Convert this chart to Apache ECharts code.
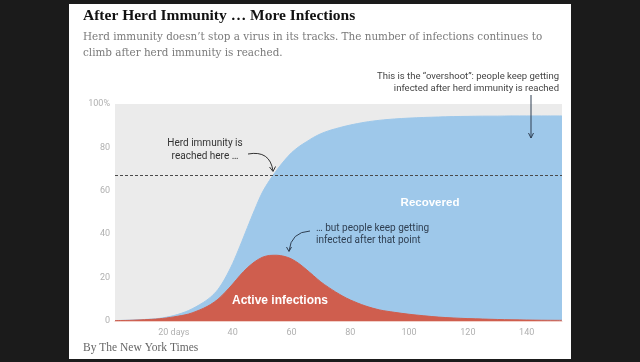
<!DOCTYPE html>
<html>
<head>
<meta charset="utf-8">
<script src="https://cdn.jsdelivr.net/npm/echarts@6/dist/echarts.min.js"></script>
<style>
html,body{margin:0;padding:0;background:#1b1b1b;}
#c{width:640px;height:362px;}
</style>
</head>
<body>
<div id="c"></div>
<script>
// Data (percent of population)
const days = [0,5,10,15,20,25,30,32.5,35,37.5,40,42.5,45,47.5,50,52.5,55,57.5,60,62.5,65,67.5,70,72.5,75,77.5,80,85,90,95,100,105,110,115,120,125,130,135,140,145,152];
const totalInfected = [0.2,0.4,0.7,1.2,2.5,4.8,8.5,11,14.5,19.8,26.5,34.5,43,51.3,59,64.7,69.5,73.8,77.5,80.3,82.5,84.6,86.3,87.6,88.6,89.5,90.3,91.6,92.5,93.1,93.5,93.8,94.0,94.2,94.3,94.4,94.4,94.5,94.5,94.5,94.5];
const activeInfections = [0.2,0.3,0.6,1.0,1.9,3.2,5.8,7.6,10,13.3,17,21,24.5,27.3,29.3,30.2,30.3,29.8,28.6,26.5,23.8,20.9,18.0,15.6,13.4,11.4,9.7,7.0,5.1,4.0,3.1,2.4,1.8,1.4,1.1,0.9,0.7,0.55,0.45,0.35,0.3];
const herdImmunityThreshold = 67.3;
const xTicks = [20,40,60,80,100,120,140];
const yTicks = [0,20,40,60,80,100];

const chart = echarts.init(document.getElementById('c'), null, {renderer:'canvas'});

const sans = 'Roboto, "Liberation Sans", sans-serif';
const serif = '"DejaVu Serif", "Liberation Serif", serif';

const option = {
  backgroundColor: '#1b1b1b',
  animation: false,
  grid: {left:115, right:78, top:104, bottom:41, show:true, backgroundColor:'#ebebeb', borderWidth:0},
  xAxis: {
    type:'value', min:0, max:152, interval:20,
    axisLine:{show:true, lineStyle:{color:'#f2cfc8', width:1}},
    axisTick:{show:false},
    splitLine:{show:false},
    axisLabel:{
      color:'#b0b0b0', fontSize:9, fontFamily:sans, margin:7,
      formatter: v => xTicks.includes(v) ? (v === 20 ? '20 days' : String(v)) : ''
    }
  },
  yAxis: {
    type:'value', min:0, max:100, interval:20,
    axisLine:{show:false}, axisTick:{show:false}, splitLine:{show:false},
    axisLabel:{
      color:'#b0b0b0', fontSize:9, fontFamily:sans, margin:5,
      formatter: v => yTicks.includes(v) ? (v === 100 ? '100%' : String(v)) : ''
    }
  },
  series: [
    {
      name:'Recovered', type:'line', smooth:0.3, showSymbol:false,
      data: days.map((d,i)=>[d,totalInfected[i]]),
      lineStyle:{width:1,color:'#9ec8ea'},
      areaStyle:{color:'#9ec8ea', opacity:1},
      z:2,
      markLine:{
        silent:true, symbol:['none','none'],
        label:{show:false},
        lineStyle:{type:[3,2], color:'#4a4a4a', width:1},
        data:[{yAxis: herdImmunityThreshold}],
        z:10
      }
    },
    {
      name:'Active infections', type:'line', smooth:0.3, showSymbol:false,
      data: days.map((d,i)=>[d,activeInfections[i]]),
      lineStyle:{width:1,color:'#cf5e4e'},
      areaStyle:{color:'#cf5e4e', opacity:1},
      z:3
    }
  ],
  graphic: [
    {type:'rect', z:-10, shape:{x:69,y:4,width:502,height:355}, style:{fill:'#ffffff'}},
    {type:'text', left:83, top:8, style:{text:'After Herd Immunity … More Infections', font:'bold 15.5px "Liberation Serif", serif', fill:'#121212'}},
    {type:'text', left:83, top:29, style:{text:"Herd immunity doesn’t stop a virus in its tracks. The number of infections continues to\nclimb after herd immunity is reached.", font:'10.4px '+serif, fill:'#7a7a7a', lineHeight:16}},
    {type:'text', left:83, top:342, style:{text:'By The New York Times', font:'11.5px "Liberation Serif", serif', fill:'#666666'}},
    // annotations
    {type:'text', z:20, x:559, y:70, style:{text:'This is the “overshoot”: people keep getting\ninfected after herd immunity is reached', font:'9.5px '+sans, fill:'#444', align:'right', lineHeight:12.5}},
    {type:'line', z:20, shape:{x1:531,y1:95,x2:531,y2:138}, style:{stroke:'#2f3f52', lineWidth:1}},
    {type:'polyline', z:20, shape:{points:[[528.5,133],[531,138],[533.5,133]]}, style:{stroke:'#2f3f52', lineWidth:1, fill:null}},
    {type:'text', z:20, x:205, y:137, style:{text:'Herd immunity is\nreached here …', font:'10px '+sans, fill:'#333', align:'center', lineHeight:13}},
    {type:'bezierCurve', z:20, shape:{x1:248,y1:154,x2:273,y2:171,cpx1:270,cpy1:150}, style:{stroke:'#333', lineWidth:1, fill:null}},
    {type:'polyline', z:20, shape:{points:[[269.5,167],[273,171.5],[275.5,166.5]]}, style:{stroke:'#333', lineWidth:1, fill:null}},
    {type:'text', z:20, x:316, y:222, style:{text:'… but people keep getting\ninfected after that point', font:'10px '+sans, fill:'#2f3f52', lineHeight:12}},
    {type:'bezierCurve', z:20, shape:{x1:310,y1:231,x2:289,y2:251,cpx1:291,cpy1:232}, style:{stroke:'#2f3f52', lineWidth:1, fill:null}},
    {type:'polyline', z:20, shape:{points:[[286.5,247],[289,251.5],[291.5,247]]}, style:{stroke:'#2f3f52', lineWidth:1, fill:null}},
    {type:'text', z:20, x:430, y:197, style:{text:'Recovered', font:'bold 11.5px "Liberation Sans", sans-serif', fill:'#ffffff', align:'center'}},
    {type:'text', z:20, x:280, y:295, style:{text:'Active infections', font:'bold 12px "Liberation Sans", sans-serif', fill:'#ffffff', align:'center'}}
  ]
};
chart.setOption(option);
</script>
</body>
</html>
